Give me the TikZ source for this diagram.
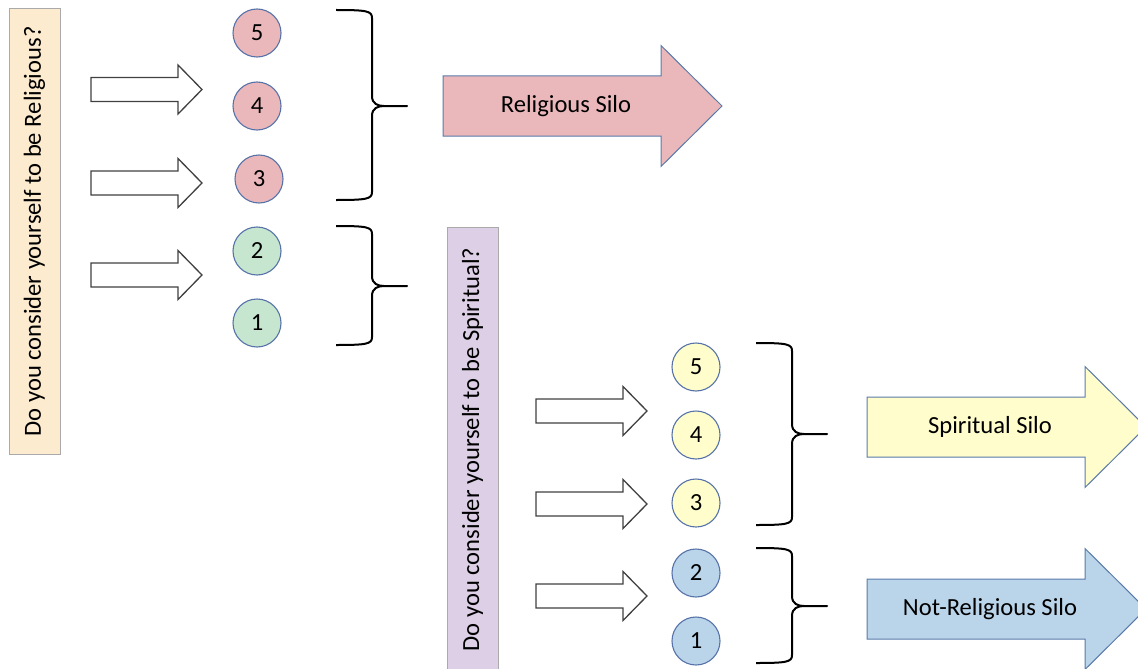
\documentclass[tikz,border=0pt]{standalone}
\usepackage{fontspec}
\setmainfont{Carlito}
\definecolor{pinkc}{HTML}{EAB8BB}
\definecolor{greenc}{HTML}{C6E6CF}
\definecolor{yellowc}{HTML}{FEFDCB}
\definecolor{bluec}{HTML}{BAD4EA}
\definecolor{peach}{HTML}{FDEBCF}
\definecolor{lav}{HTML}{DDD0E6}
\definecolor{circblue}{HTML}{5672A8}
\definecolor{siloedge}{HTML}{5A7AAA}
\definecolor{boxgray}{HTML}{AAAAAA}
\definecolor{arrgray}{HTML}{404040}
\newcommand\silobrace[4]{%
  \draw[bracestyle] ({#1-36},#2) .. controls ({#1-5},#2) and (#1,{#2+1}) .. (#1,{#2+8})
    -- (#1,{#3-10}) .. controls (#1,{#3-2}) and ({#1+6},#3) .. ({#1+12},#3)
    -- ({#1+35},#3) -- ({#1+12},#3)
    .. controls ({#1+6},#3) and (#1,{#3+2}) .. (#1,{#3+10})
    -- (#1,{#4-8}) .. controls (#1,{#4-1}) and ({#1-5},#4) .. ({#1-36},#4);}
\begin{document}
\begin{tikzpicture}[x=1pt,y=-1pt,
  every node/.style={font=\fontsize{24.6}{29}\selectfont, inner sep=0pt},
  num/.style={circle, draw=circblue, line width=1.1pt, minimum size=48pt},
  qbox/.style={rotate=90, draw=boxgray, line width=1pt, minimum width=445pt, minimum height=51pt},
  hollow/.pic={\draw[draw=arrgray, line width=1.3pt, fill=white, line join=miter]
     (0,-12) -- (87,-12) -- (87,-24.5) -- (111,0) -- (87,24.5) -- (87,12) -- (0,12) -- cycle;},
  silo/.pic={\path[pic actions, draw=siloedge, line width=1pt]
     (0,-30) -- (218,-30) -- (218,-60.5) -- (279,0) -- (218,60.5) -- (218,30) -- (0,30) -- cycle;},
  bracestyle/.style={draw=black, line width=2pt, line join=round}
]
\path[use as bounding box] (0,0) rectangle (1138,669);
\clip (0,0) rectangle (1138,669);

% question boxes
\node[qbox, fill=peach] (q1) at (34.5,231.5) {Do you consider yourself to be Religious?};
\node[qbox, fill=lav] (q2) at (472.5,449.5) {Do you consider yourself to be Spiritual?};

% group 1 circles
\node[num, fill=pinkc] (r5) at (257,33) {5};
\node[num, fill=pinkc] (r4) at (257,106) {4};
\node[num, fill=pinkc] (r3) at (259,179) {3};
\node[num, fill=greenc] (r2) at (257,251) {2};
\node[num, fill=greenc] (r1) at (257,323) {1};

% group 2 circles
\node[num, fill=yellowc] (s5) at (696,367) {5};
\node[num, fill=yellowc] (s4) at (696,435) {4};
\node[num, fill=yellowc] (s3) at (696,503) {3};
\node[num, fill=bluec] (s2) at (696,573) {2};
\node[num, fill=bluec] (s1) at (696,641) {1};

% hollow arrows
\pic (ha1) at (91,89.5) {hollow};
\pic (ha2) at (91,183) {hollow};
\pic (ha3) at (91,275) {hollow};
\pic (hb1) at (536,411) {hollow};
\pic (hb2) at (536,504) {hollow};
\pic (hb3) at (536,596) {hollow};

% braces
\silobrace{372}{10}{106}{200}
\silobrace{372}{226}{286}{345}
\silobrace{792}{343}{434}{525}
\silobrace{792}{548}{606}{663}

% silo arrows
\pic[fill=pinkc] (sa1) at (443,106) {silo};
\pic[fill=yellowc] (sa2) at (867,427) {silo};
\pic[fill=bluec] (sa3) at (867,609) {silo};
\node (t1) at (566,106) {Religious Silo};
\node (t2) at (990,427) {Spiritual Silo};
\node (t3) at (990,609) {Not-Religious Silo};
\end{tikzpicture}
\end{document}
